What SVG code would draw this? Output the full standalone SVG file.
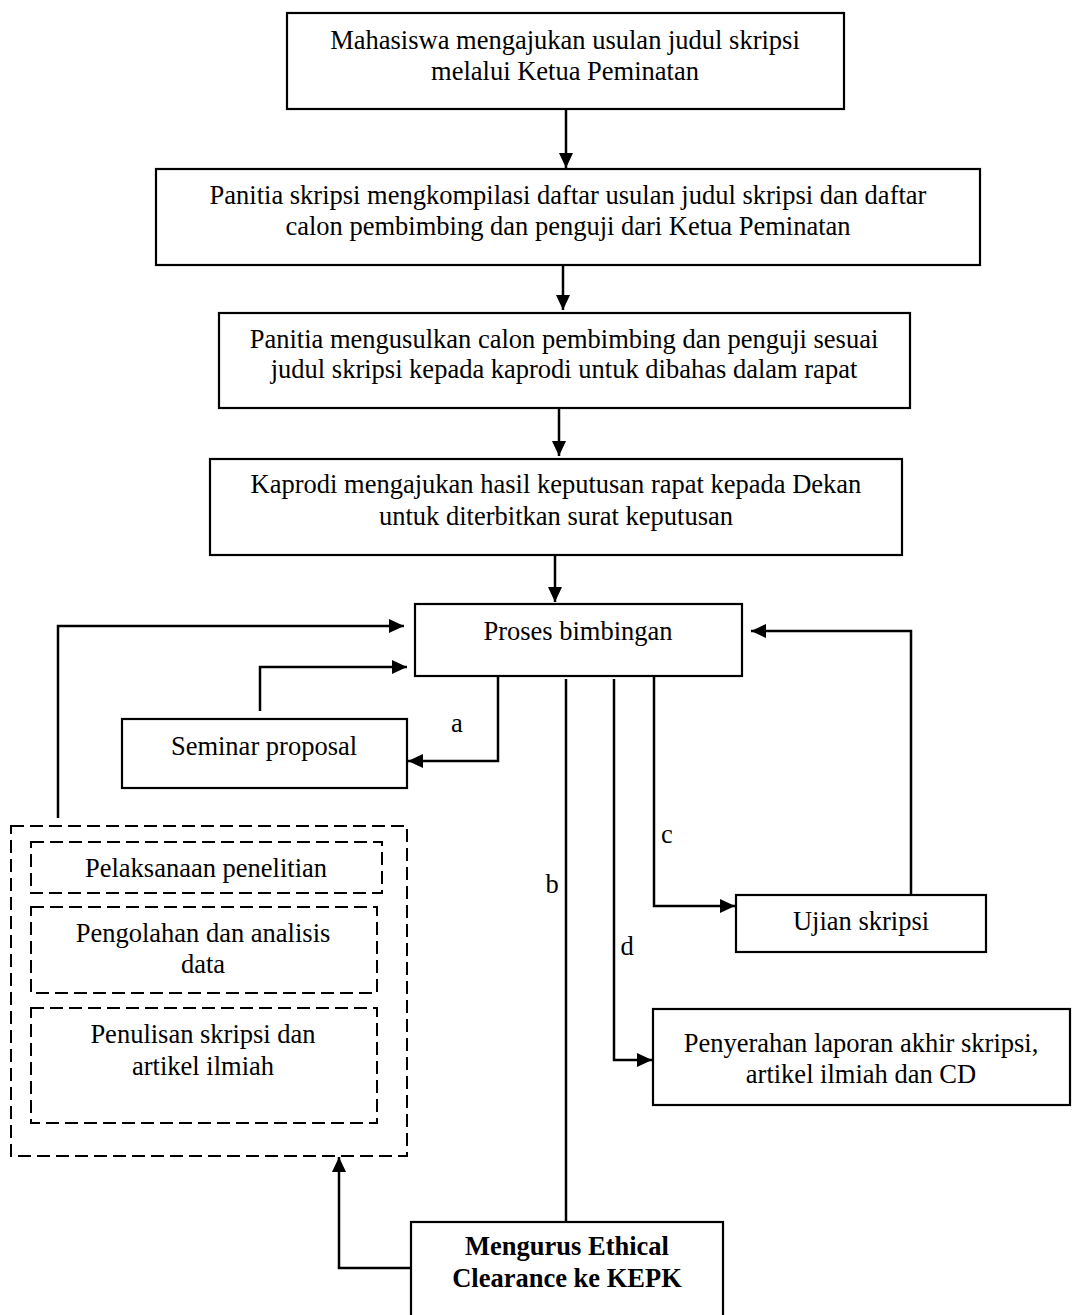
<svg xmlns="http://www.w3.org/2000/svg" width="1075" height="1315" viewBox="0 0 1075 1315">
<style>
text{font-family:"Liberation Serif","Times New Roman",serif;font-size:26.5px;fill:#000;text-anchor:middle}
.b{font-weight:bold}
.box{fill:#fff;stroke:#000;stroke-width:2.2}
.dash{fill:none;stroke:#000;stroke-width:2;stroke-dasharray:13 6}
.con{fill:none;stroke:#000;stroke-width:2.5}
</style>
<defs>
<marker id="ah" markerUnits="userSpaceOnUse" markerWidth="16" markerHeight="15" refX="15" refY="7" orient="auto">
<path d="M0,0 L15,7 L0,14 z" fill="#000"/>
</marker>
</defs>
<rect width="1075" height="1315" fill="#fff"/>
<g id="connectors">
<line class="con" x1="566" y1="109" x2="566" y2="168" marker-end="url(#ah)"/>
<line class="con" x1="563" y1="265" x2="563" y2="310" marker-end="url(#ah)"/>
<line class="con" x1="559" y1="408" x2="559" y2="456" marker-end="url(#ah)"/>
<line class="con" x1="555" y1="555" x2="555" y2="602" marker-end="url(#ah)"/>
<polyline class="con" points="58,818 58,626 404,626" marker-end="url(#ah)"/>
<polyline class="con" points="260,711 260,667 407,667" marker-end="url(#ah)"/>
<polyline class="con" points="498,676 498,761 408,761" marker-end="url(#ah)"/>
<line class="con" x1="566" y1="679" x2="566" y2="1222"/>
<polyline class="con" points="614,679 614,1060 652,1060" marker-end="url(#ah)"/>
<polyline class="con" points="654,676 654,906 735,906" marker-end="url(#ah)"/>
<polyline class="con" points="911,895 911,631 751,631" marker-end="url(#ah)"/>
<polyline class="con" points="411,1268 339,1268 339,1157" marker-end="url(#ah)"/>
<text x="457" y="732">a</text>
<text x="552" y="893">b</text>
<text x="667" y="843">c</text>
<text x="627" y="955">d</text>
</g>
<g id="n1"><rect class="box" x="287" y="13" width="557" height="96"/><text x="565" y="49">Mahasiswa mengajukan usulan judul skripsi</text><text x="565" y="80">melalui Ketua Peminatan</text></g>
<g id="n2"><rect class="box" x="156" y="169" width="824" height="96"/><text x="568" y="204">Panitia skripsi mengkompilasi daftar usulan judul skripsi dan daftar</text><text x="568" y="235">calon pembimbing dan penguji dari Ketua Peminatan</text></g>
<g id="n3"><rect class="box" x="219" y="313" width="691" height="95"/><text x="564" y="348">Panitia mengusulkan calon pembimbing dan penguji sesuai</text><text x="564" y="378">judul skripsi kepada kaprodi untuk dibahas dalam rapat</text></g>
<g id="n4"><rect class="box" x="210" y="459" width="692" height="96"/><text x="556" y="493">Kaprodi mengajukan hasil keputusan rapat kepada Dekan</text><text x="556" y="525">untuk diterbitkan surat keputusan</text></g>
<g id="n5"><rect class="box" x="415" y="604" width="327" height="72"/><text x="578" y="640">Proses bimbingan</text></g>
<g id="n6"><rect class="box" x="122" y="719" width="285" height="69"/><text x="264" y="755">Seminar proposal</text></g>
<g id="n7"><rect class="box" x="736" y="895" width="250" height="57"/><text x="861" y="930">Ujian skripsi</text></g>
<g id="n8"><rect class="box" x="653" y="1009" width="417" height="96"/><text x="861" y="1052">Penyerahan laporan akhir skripsi,</text><text x="861" y="1083">artikel ilmiah dan CD</text></g>
<g id="n9"><rect class="dash" x="11" y="826" width="396" height="330"/></g>
<g id="n10"><rect class="dash" x="31" y="842" width="351" height="51"/><text x="206" y="877">Pelaksanaan penelitian</text></g>
<g id="n11"><rect class="dash" x="31" y="907" width="346" height="86"/><text x="203" y="942">Pengolahan dan analisis</text><text x="203" y="973">data</text></g>
<g id="n12"><rect class="dash" x="31" y="1008" width="346" height="115"/><text x="203" y="1043">Penulisan skripsi dan</text><text x="203" y="1075">artikel ilmiah</text></g>
<g id="n13"><rect class="box" x="411" y="1222" width="312" height="100"/><text class="b" x="567" y="1255">Mengurus Ethical</text><text class="b" x="567" y="1287">Clearance ke KEPK</text></g>
</svg>
